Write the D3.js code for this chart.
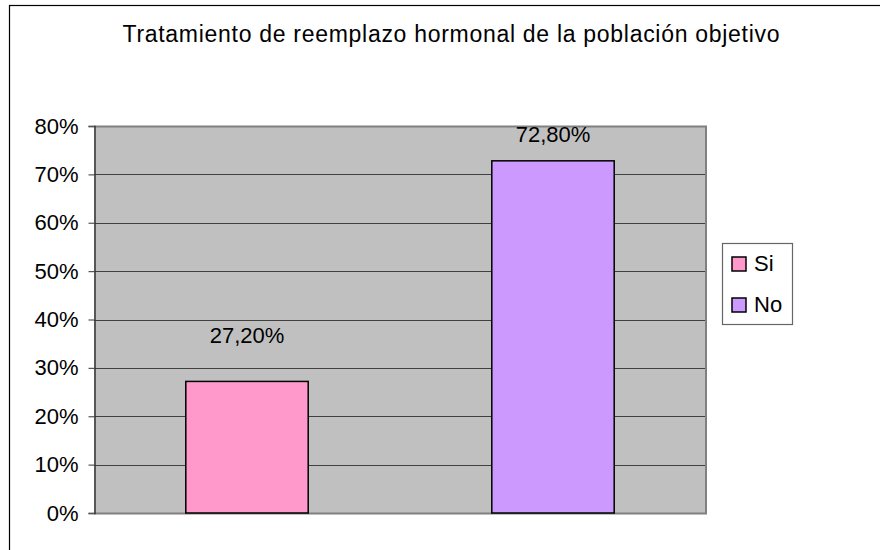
<!DOCTYPE html>
<html>
<head>
<meta charset="utf-8">
<script src="https://cdn.jsdelivr.net/npm/d3@7"></script>
<style>
  body { margin: 0; background: #fff; }
  text { font-family: "Liberation Sans", Arial, sans-serif; fill: #000; }
</style>
</head>
<body>
<div id="chart"></div>
<script>
const categories = ["Si", "No"];
const values = [27.2, 72.8];
const valueLabels = ["27,20%", "72,80%"];
const yTicks = [0, 10, 20, 30, 40, 50, 60, 70, 80];
const colors = ["#FF99CC", "#CC99FF"];
const title = "Tratamiento de reemplazo hormonal de la población objetivo";

const width = 880;
const height = 550;
const margin = { top: 126, right: 174, bottom: 36, left: 94 };

const svg = d3.select("#chart").append("svg")
  .attr("width", width)
  .attr("height", height);

// outer chart frame (runs off the right and bottom edges)
svg.append("rect")
  .attr("x", 9.5)
  .attr("y", 5.5)
  .attr("width", 900)
  .attr("height", 600)
  .attr("fill", "#fff")
  .attr("stroke", "#000")
  .attr("stroke-width", 1.2);

svg.append("text")
  .attr("x", 451)
  .attr("y", 42)
  .attr("text-anchor", "middle")
  .attr("textLength", 657)
  .attr("lengthAdjust", "spacing")
  .style("font-size", "23px")
  .text(title);

const x = d3.scaleBand()
  .domain(categories)
  .range([margin.left, width - margin.right])
  .paddingInner(0.6)
  .paddingOuter(0.3);

const y = d3.scaleLinear()
  .domain([0, 80])
  .range([height - margin.bottom - 1, margin.top]);

// plot background
svg.append("rect")
  .attr("x", margin.left)
  .attr("y", y(80))
  .attr("width", width - margin.right - margin.left)
  .attr("height", y(0) - y(80))
  .attr("fill", "#C0C0C0");

// gridlines
svg.append("g")
  .selectAll("line")
  .data(yTicks.filter(d => d > 0 && d < 80))
  .join("line")
  .attr("x1", margin.left)
  .attr("x2", width - margin.right)
  .attr("y1", d => Math.round(y(d)) + 0.5)
  .attr("y2", d => Math.round(y(d)) + 0.5)
  .attr("stroke", "#404040")
  .attr("stroke-width", 1);

// plot border: top, right, bottom
const px0 = margin.left, px1 = width - margin.right;
svg.append("path")
  .attr("d", `M${px0},${Math.round(y(80)) + 0.5}H${px1}V${Math.round(y(0)) + 0.5}H${px0}`)
  .attr("fill", "none")
  .attr("stroke", "#808080")
  .attr("stroke-width", 2);

// bars
svg.append("g")
  .selectAll("rect")
  .data(values)
  .join("rect")
  .attr("x", (d, i) => x(categories[i]))
  .attr("y", d => y(d))
  .attr("width", x.bandwidth())
  .attr("height", d => y(0) - y(d))
  .attr("fill", (d, i) => colors[i])
  .attr("stroke", "#000")
  .attr("stroke-width", 1.5);

// value labels, kept inside the plot area
svg.append("g")
  .selectAll("text")
  .data(values)
  .join("text")
  .attr("x", (d, i) => x(categories[i]) + x.bandwidth() / 2)
  .attr("y", d => Math.max(y(d) - 38, y(80) + 16))
  .attr("text-anchor", "middle")
  .style("font-size", "22px")
  .text((d, i) => valueLabels[i]);

// y axis
const yAxis = svg.append("g")
  .attr("transform", `translate(${margin.left + 0.5},0)`)
  .call(d3.axisLeft(y).tickValues(yTicks).tickFormat(d => d + "%").tickSize(6).tickPadding(10));
yAxis.select(".domain").attr("stroke", "#333").attr("stroke-width", 1.5);
yAxis.selectAll(".tick line").attr("stroke", "#555").attr("stroke-width", 1.2);
yAxis.selectAll(".tick text")
  .style("font-size", "22px")
  .style("font-family", "'Liberation Sans', Arial, sans-serif")
  .attr("fill", "#000");

// legend
const legend = svg.append("g");
legend.append("rect")
  .attr("x", 722.5)
  .attr("y", 243.5)
  .attr("width", 70)
  .attr("height", 81)
  .attr("fill", "#fff")
  .attr("stroke", "#666")
  .attr("stroke-width", 1.2);

categories.forEach((c, i) => {
  const g = legend.append("g")
    .attr("transform", `translate(732, ${257 + i * 41})`);
  g.append("rect")
    .attr("width", 14)
    .attr("height", 14)
    .attr("fill", colors[i])
    .attr("stroke", "#000")
    .attr("stroke-width", 1.5);
  g.append("text")
    .attr("x", 22)
    .attr("y", 14)
    .style("font-size", "22px")
    .text(c);
});
</script>
</body>
</html>
